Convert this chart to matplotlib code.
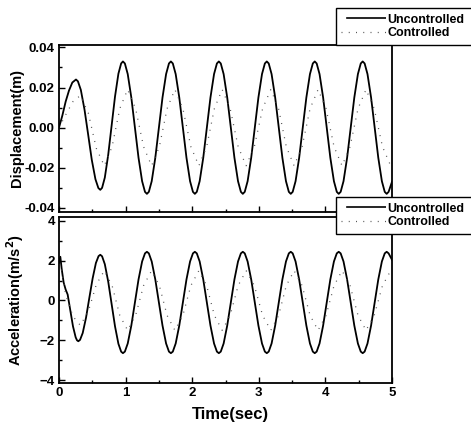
import matplotlib
matplotlib.use("Agg")
import matplotlib.pyplot as plt
from matplotlib.ticker import MultipleLocator
from matplotlib.lines import Line2D

plt.rcParams['font.family'] = ['Liberation Sans', 'DejaVu Sans']

# ---------------- data ----------------
# Start-up part of the uncontrolled displacement (s, m)
t_disp_start = [0.0, 0.05, 0.10, 0.15, 0.20, 0.255,
                0.284, 0.328, 0.383, 0.438, 0.492, 0.547, 0.591, 0.62,
                0.647, 0.688, 0.739, 0.79, 0.841, 0.892, 0.933]
disp_start = [0.0, 0.006, 0.013, 0.0185, 0.0225, 0.024,
              0.0231, 0.0188, 0.0090, -0.0035, -0.016, -0.0257, -0.0301, -0.031,
              -0.030, -0.0249, -0.0135, 0.001, 0.0155, 0.0269, 0.032]

# Start-up part of the uncontrolled acceleration (s, m/s^2)
t_acc_start = [0.0, 0.02, 0.04, 0.07, 0.10, 0.13, 0.17, 0.21, 0.25, 0.27, 0.29,
               0.316, 0.356, 0.406, 0.455, 0.505, 0.554, 0.594, 0.62,
               0.647, 0.688, 0.739, 0.79, 0.841, 0.892, 0.933]
acc_start = [1.9, 2.2, 1.6, 0.9, 0.55, 0.3, -0.5, -1.3, -1.85, -2.0, -2.05,
             -1.98, -1.635, -0.862, 0.125, 1.112, 1.885, 2.233, 2.3,
             2.223, 1.827, 0.949, -0.175, -1.299, -2.177, -2.573]

# Steady part, shared time samples (s)
t_steady = [0.96,
            0.989, 1.032, 1.086, 1.14, 1.194, 1.248, 1.291, 1.32,
            1.349, 1.392, 1.446, 1.50, 1.554, 1.608, 1.651, 1.68,
            1.709, 1.752, 1.806, 1.86, 1.914, 1.968, 2.011, 2.04,
            2.069, 2.112, 2.166, 2.22, 2.274, 2.328, 2.371, 2.40,
            2.429, 2.472, 2.526, 2.58, 2.634, 2.688, 2.731, 2.76,
            2.789, 2.832, 2.886, 2.94, 2.994, 3.048, 3.091, 3.12,
            3.149, 3.192, 3.246, 3.30, 3.354, 3.408, 3.451, 3.48,
            3.509, 3.552, 3.606, 3.66, 3.714, 3.768, 3.811, 3.84,
            3.869, 3.912, 3.966, 4.02, 4.074, 4.128, 4.171, 4.20,
            4.229, 4.272, 4.326, 4.38, 4.434, 4.488, 4.531, 4.56,
            4.589, 4.632, 4.686, 4.74, 4.794, 4.848, 4.891, 4.92,
            4.949, 5.0]
disp_steady = [0.033,
               0.032, 0.0267, 0.015, 0.0, -0.015, -0.0267, -0.032, -0.033,
               -0.032, -0.0267, -0.015, 0.0, 0.015, 0.0267, 0.032, 0.033,
               0.032, 0.0267, 0.015, 0.0, -0.015, -0.0267, -0.032, -0.033,
               -0.032, -0.0267, -0.015, 0.0, 0.015, 0.0267, 0.032, 0.033,
               0.032, 0.0267, 0.015, 0.0, -0.015, -0.0267, -0.032, -0.033,
               -0.032, -0.0267, -0.015, 0.0, 0.015, 0.0267, 0.032, 0.033,
               0.032, 0.0267, 0.015, 0.0, -0.015, -0.0267, -0.032, -0.033,
               -0.032, -0.0267, -0.015, 0.0, 0.015, 0.0267, 0.032, 0.033,
               0.032, 0.0267, 0.015, 0.0, -0.015, -0.0267, -0.032, -0.033,
               -0.032, -0.0267, -0.015, 0.0, 0.015, 0.0267, 0.032, 0.033,
               0.032, 0.0267, 0.015, 0.0, -0.015, -0.0267, -0.032, -0.033,
               -0.032, -0.027]
acc_steady = [-2.65,
              -2.571, -2.163, -1.258, -0.1, 1.058, 1.963, 2.371, 2.45,
              2.371, 1.963, 1.058, -0.1, -1.258, -2.163, -2.571, -2.65,
              -2.571, -2.163, -1.258, -0.1, 1.058, 1.963, 2.371, 2.45,
              2.371, 1.963, 1.058, -0.1, -1.258, -2.163, -2.571, -2.65,
              -2.571, -2.163, -1.258, -0.1, 1.058, 1.963, 2.371, 2.45,
              2.371, 1.963, 1.058, -0.1, -1.258, -2.163, -2.571, -2.65,
              -2.571, -2.163, -1.258, -0.1, 1.058, 1.963, 2.371, 2.45,
              2.371, 1.963, 1.058, -0.1, -1.258, -2.163, -2.571, -2.65,
              -2.571, -2.163, -1.258, -0.1, 1.058, 1.963, 2.371, 2.45,
              2.371, 1.963, 1.058, -0.1, -1.258, -2.163, -2.571, -2.65,
              -2.571, -2.163, -1.258, -0.1, 1.058, 1.963, 2.371, 2.45,
              2.371, 2.05]

# Controlled (dotted) series
t_ctl = [0.0, 0.11, 0.21, 0.32, 0.44, 0.56, 0.68,
         0.797, 0.913, 1.03, 1.15, 1.27, 1.39,
         1.507, 1.623, 1.74, 1.86, 1.98, 2.10,
         2.217, 2.333, 2.45, 2.57, 2.69, 2.81,
         2.933, 3.057, 3.18, 3.297, 3.413, 3.53,
         3.65, 3.77, 3.89, 4.01, 4.13, 4.25,
         4.37, 4.49, 4.61, 4.733, 4.857, 4.98, 5.0]
disp_ctl = [0.0, 0.007, 0.013, 0.016, 0.0073, -0.0103, -0.019,
            -0.0095, 0.0095, 0.019, 0.0095, -0.0095, -0.019,
            -0.0095, 0.0095, 0.019, 0.0095, -0.0095, -0.019,
            -0.0095, 0.0095, 0.019, 0.0095, -0.0095, -0.019,
            -0.0095, 0.0095, 0.019, 0.0095, -0.0095, -0.019,
            -0.0095, 0.0095, 0.019, 0.0095, -0.0095, -0.019,
            -0.0095, 0.0095, 0.019, 0.0095, -0.0095, -0.019, -0.0185]
t_acc_ctl = [0.0, 0.04, 0.10, 0.21, 0.32, 0.44, 0.56, 0.68,
             0.797, 0.913, 1.03, 1.15, 1.27, 1.39,
             1.507, 1.623, 1.74, 1.86, 1.98, 2.10,
             2.217, 2.333, 2.45, 2.57, 2.69, 2.81,
             2.933, 3.057, 3.18, 3.297, 3.413, 3.53,
             3.65, 3.77, 3.89, 4.01, 4.13, 4.25,
             4.37, 4.49, 4.61, 4.733, 4.857, 4.98, 5.0]
acc_ctl = [1.9, 1.5, 0.3, -0.8, -1.25, -0.55, 0.8, 1.5,
           0.75, -0.75, -1.5, -0.75, 0.75, 1.5,
           0.75, -0.75, -1.5, -0.75, 0.75, 1.5,
           0.75, -0.75, -1.5, -0.75, 0.75, 1.5,
           0.75, -0.75, -1.5, -0.75, 0.75, 1.5,
           0.75, -0.75, -1.5, -0.75, 0.75, 1.5,
           0.75, -0.75, -1.5, -0.75, 0.75, 1.5, 1.45]

series_labels = ["Uncontrolled", "Controlled"]
disp_ticks = [-0.04, -0.02, 0.00, 0.02, 0.04]
disp_tick_labels = ["-0.04", "-0.02", "0.00", "0.02", "0.04"]
acc_ticks = [-4, -2, 0, 2, 4]
time_ticks = [0, 1, 2, 3, 4, 5]

# ---------------- figure ----------------
W, H = 471, 426
fig = plt.figure(figsize=(W / 100, H / 100), dpi=100)


def fx(px):
    return px / W


def fy(py):
    return 1 - py / H


ax1 = fig.add_axes([fx(59), fy(211.5), fx(392) - fx(59), fy(45) - fy(211.5)])
ax2 = fig.add_axes([fx(59), fy(383), fx(392) - fx(59), fy(217) - fy(383)])

ctl_style = dict(color='#555555', lw=0.9, linestyle=(0, (0.8, 5)))
unc_style = dict(color='black', lw=1.3)

ax1.plot(t_disp_start + t_steady, disp_start + disp_steady, **unc_style)
ax1.plot(t_ctl, disp_ctl, **ctl_style)
ax2.plot(t_acc_start + t_steady, acc_start + acc_steady, **unc_style)
ax2.plot(t_acc_ctl, acc_ctl, **ctl_style)

ax1.set_xlim(0, 5)
ax1.set_ylim(-0.0418, 0.0412)
ax2.set_xlim(0, 5)
ax2.set_ylim(-4.15, 4.2)

ax1.set_yticks(disp_ticks)
ax1.set_yticklabels(disp_tick_labels)
ax1.set_xticks(time_ticks)
ax1.tick_params(axis='x', labelbottom=False)
ax2.set_yticks(acc_ticks)
ax2.set_xticks(time_ticks)

for ax in (ax1, ax2):
    ax.xaxis.set_minor_locator(MultipleLocator(0.5))
    for s in ax.spines.values():
        s.set_linewidth(1.3)
    ax.tick_params(which='both', direction='in', top=False, right=False,
                   width=1.0, labelsize=9.5, pad=3)
    ax.tick_params(which='major', length=4)
    ax.tick_params(which='minor', length=2.5)
    for lab in ax.get_xticklabels() + ax.get_yticklabels():
        lab.set_fontweight('bold')
ax1.yaxis.set_minor_locator(MultipleLocator(0.01))
ax2.yaxis.set_minor_locator(MultipleLocator(1))

ax1.set_ylabel("Displacement(m)", fontsize=10.5, fontweight='bold')
ax2.set_ylabel("Acceleration(m/s$^\\mathbf{2}$)", fontsize=10.5, fontweight='bold')
ax2.set_xlabel("Time(sec)", fontsize=12, fontweight='bold')
ax1.yaxis.set_label_coords(-0.105, 0.5)
ax2.yaxis.set_label_coords(-0.100, 0.5)
ax2.xaxis.set_label_coords(0.515, -0.145)

# legend handles: solid sample that starts a little in from the frame
fs = 9
unc_handle = Line2D([], [], color='black', lw=1.2,
                    linestyle=(25, (25, 3.1)))
ctl_handle = Line2D([], [], **ctl_style)
leg_w = fx(490) - fx(335.5)
leg_kw = dict(loc='upper left', frameon=True, fancybox=False, fontsize=fs,
              handlelength=3.57, handletextpad=0.1, borderpad=0.45,
              labelspacing=0.1, borderaxespad=0, framealpha=1, mode='expand')
leg1 = ax1.legend([unc_handle, ctl_handle], series_labels,
                  bbox_to_anchor=(fx(335.5), fy(8), leg_w, 0),
                  bbox_transform=fig.transFigure, **leg_kw)
leg2 = ax2.legend([unc_handle, ctl_handle], series_labels,
                  bbox_to_anchor=(fx(335.5), fy(197), leg_w, 0),
                  bbox_transform=fig.transFigure, **leg_kw)
for leg in (leg1, leg2):
    fr = leg.get_frame()
    fr.set_edgecolor('black')
    fr.set_linewidth(1.0)
    leg.set_zorder(10)
    for txt in leg.get_texts():
        txt.set_fontweight('bold')

fig.savefig("out.png", dpi=100)
